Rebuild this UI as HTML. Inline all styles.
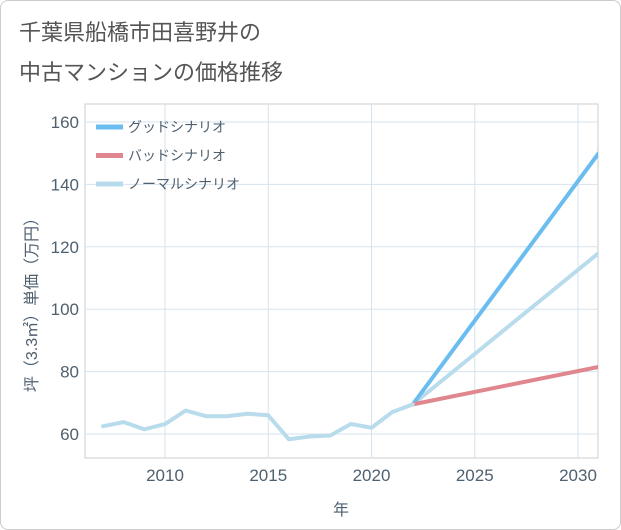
<!DOCTYPE html>
<html><head><meta charset="utf-8">
<style>
body{margin:0;background:#fff;}
#card{position:absolute;left:0;top:0;width:619px;height:528px;border:1px solid #ccc;border-radius:8px;background:#fff;overflow:hidden;}
.t{position:absolute;left:18px;font:22px "Liberation Sans","Noto Sans CJK JP",sans-serif;color:#555;}
svg text{font-family:"Liberation Sans","Noto Sans CJK JP",sans-serif;}
</style></head><body>
<div id="card">
<div class="t" style="top:14px">千葉県船橋市田喜野井の</div>
<div class="t" style="top:54px">中古マンションの価格推移</div>
<svg id="c" width="621" height="530" style="position:absolute;left:0;top:0"></svg>
</div>
<script>
const histYears=[2007,2008,2009,2010,2011,2012,2013,2014,2015,2016,2017,2018,2019,2020,2021,2022];
const histVals=[62.5,63.8,61.5,63.2,67.5,65.7,65.7,66.5,66,58.3,59.2,59.5,63.2,62,67,69.5];
const projYears=[2022,2031];
const goodVals=[69.5,150];
const badVals=[69.5,81.5];
const normalVals=[69.5,118];
const xTicks=[2010,2015,2020,2025,2030];
const yTicks=[60,80,100,120,140,160];
const L=84,R=597,T=103,B=457;
const x=v=>164+(v-2010)*20.65;
const y=v=>433-(v-60)*3.12;
const s=document.getElementById('c');
const NS='http://www.w3.org/2000/svg';
function mk(tag,at,name,par){const e=document.createElementNS(NS,tag);for(const k in at)e.setAttribute(k,at[k]);


(par||s).appendChild(e);return e;}
const cp=mk('clipPath',{id:'cp'},'clip');mk('rect',{x:L,y:T,width:R-L,height:B-T},'clip-rect',cp);
mk('rect',{x:L,y:T,width:R-L,height:B-T,fill:'none',stroke:'#ccc'},'plot-area');
xTicks.forEach(v=>{mk('line',{x1:x(v),x2:x(v),y1:T,y2:B,stroke:'#d5e3ee'},'x-grid-line');
const t=mk('text',{x:x(v),y:480,'text-anchor':'middle','font-size':17,fill:'#4f6070'},'x-tick-label');t.textContent=v;});
yTicks.forEach(v=>{mk('line',{x1:L,x2:R,y1:y(v),y2:y(v),stroke:'#d5e3ee'},'y-grid-line');
const t=mk('text',{x:78,y:y(v)+6,'text-anchor':'end','font-size':17,fill:'#4f6070'},'y-tick-label');t.textContent=v;});
const xt=mk('text',{x:340,y:514,'text-anchor':'middle','font-size':16,fill:'#4f6070'},'x-axis-title');xt.textContent='年';
const yt=mk('text',{x:0,y:0,'text-anchor':'middle','font-size':16,fill:'#4f6070',transform:'translate(36,300) rotate(-90)'},'y-axis-title');yt.textContent='坪（3.3㎡）単価（万円）';
const g=mk('g',{'clip-path':'url(#cp)'},'series-group');
function line(xs,vs,col,name){mk('polyline',{points:xs.map((v,i)=>x(v)+','+y(vs[i])).join(' '),fill:'none',stroke:col,'stroke-width':4,'stroke-linejoin':'round','stroke-linecap':'round'},name,g);}
line(projYears,normalVals,'#b9dcec','normal-scenario-line');
line(projYears,goodVals,'#6bbdf0','good-scenario-line');
line(projYears,badVals,'#e0868e','bad-scenario-line');
line(histYears,histVals,'#b9dcec','historical-line');
const leg=[['グッドシナリオ','#6bbdf0'],['バッドシナリオ','#e0868e'],['ノーマルシナリオ','#b9dcec']];
leg.forEach((l,i)=>{const yy=126+i*28.5;mk('line',{x1:95,x2:122,y1:yy,y2:yy,stroke:l[1],'stroke-width':5},'legend-swatch');
const t=mk('text',{x:127,y:yy+5,'font-size':14,fill:'#4f6070'},'legend-label');t.textContent=l[0];});
</script>
</body></html>
